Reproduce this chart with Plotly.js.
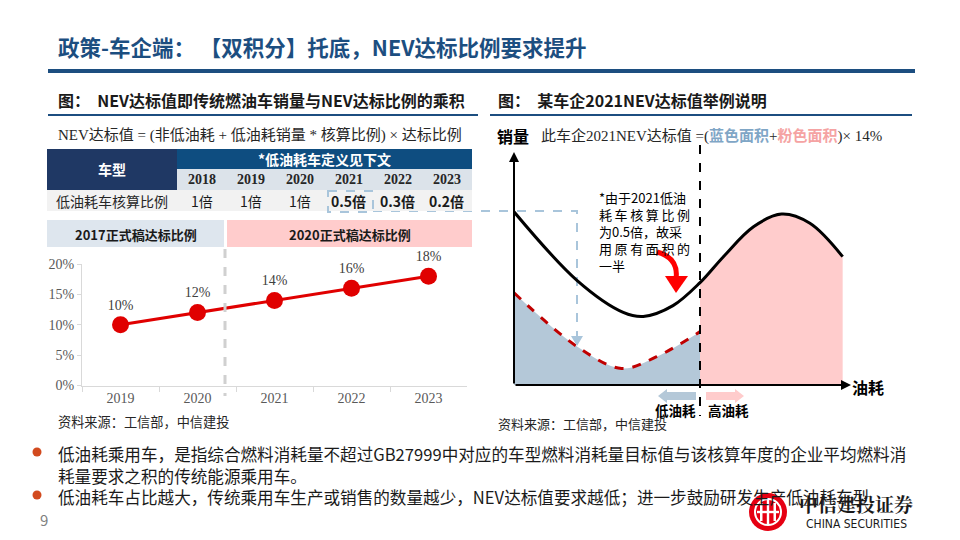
<!DOCTYPE html>
<html>
<head>
<meta charset="utf-8">
<script src="https://cdn.plot.ly/plotly-3.0.1.min.js"></script>
<style>
  html, body { margin: 0; padding: 0; background: #fff; }
  #plot { width: 960px; height: 540px; }
</style>
</head>
<body>
<div id="plot"></div>
<script>
// line chart: NEV target ratio by year
var years = ['2019', '2020', '2021', '2022', '2023'];
var ratio = [0.10, 0.12, 0.14, 0.16, 0.18];
var yTicks = [0, 0.05, 0.10, 0.15, 0.20];

// table: low-fuel-consumption car accounting ratio
var tableYears = ['2018', '2019', '2020', '2021', '2022', '2023'];
var credit = ['1倍', '1倍', '1倍', '0.5倍', '0.3倍', '0.2倍'];
var bands = ['2017正式稿达标比例', '2020正式稿达标比例'];

// schematic: sales vs fuel consumption
var fuel = [0, 1.9, 3.27, 3.87, 4.76, 5.57, 6.27, 7.17, 8.01, 8.86, 9.84];
var sales = [7.53, 4.53, 3.16, 2.98, 3.45, 4.45, 5.58, 6.88, 7.43, 7.03, 5.58];
var halfFuel = [0, 1.9, 3.22, 4.27, 5.57];
var halfSales = [4.01, 1.66, 0.72, 1.23, 2.32];
var cut = 5; // index where 高油耗 starts

var CJK = 'Noto Sans CJK SC';
var SERIF = 'Liberation Serif, Noto Sans CJK SC';
var NAVY = '#1C4E80';

var W = 960, H = 540;
function X(v) { return v / W; }
function Y(v) { return 1 - v / H; }

function note(x, y, text, size, color, extra) {
  return Object.assign({
    xref: 'paper', yref: 'paper', x: X(x), y: Y(y), text: text, showarrow: false,
    xanchor: 'left', yanchor: 'middle', borderpad: 0,
    font: {family: CJK, size: size, color: color}
  }, extra || {});
}
function box(x0, y0, x1, y1, fill, extra) {
  return Object.assign({
    type: 'rect', xref: 'paper', yref: 'paper',
    x0: X(x0), x1: X(x1), y0: Y(y0), y1: Y(y1),
    fillcolor: fill, line: {width: 0}
  }, extra || {});
}
function seg(x0, y0, x1, y1, color, width, dash) {
  return {type: 'line', xref: 'paper', yref: 'paper', x0: X(x0), x1: X(x1), y0: Y(y0), y1: Y(y1),
    line: {color: color, width: width, dash: dash || 'solid'}};
}
function path(cmds, line, fill, extra) {
  var d = cmds.map(function (c) {
    var s = c[0];
    for (var i = 1; i < c.length; i += 2) s += ' ' + X(c[i]) + ',' + Y(c[i + 1]);
    return s;
  }).join(' ');
  return Object.assign({type: 'path', xref: 'paper', yref: 'paper', path: d,
    line: line || {width: 0}, fillcolor: fill || 'rgba(0,0,0,0)'}, extra || {});
}
function circle(cx, cy, r, fill, line) {
  return box(cx - r, cy - r, cx + r, cy + r, fill, {type: 'circle', line: line || {width: 0}});
}

var traces = [
  {
    x: years, y: ratio, xaxis: 'x', yaxis: 'y', type: 'scatter', mode: 'lines+markers+text',
    line: {color: '#E00000', width: 3},
    marker: {color: '#E00000', size: 17},
    text: ratio.map(function (v) { return Math.round(v * 100) + '%'; }),
    textposition: 'top center',
    textfont: {family: 'Liberation Serif', size: 14, color: '#404040'},
    cliponaxis: false, hoverinfo: 'skip'
  },
  {
    x: fuel.slice(cut), y: sales.slice(cut), xaxis: 'x2', yaxis: 'y2', type: 'scatter', mode: 'lines',
    line: {width: 0, shape: 'spline'}, fill: 'tozeroy', fillcolor: '#FFCCCC', hoverinfo: 'skip'
  },
  {
    x: halfFuel, y: halfSales, xaxis: 'x2', yaxis: 'y2', type: 'scatter', mode: 'lines',
    line: {color: '#C00000', width: 3, dash: 'dash', shape: 'spline'},
    fill: 'tozeroy', fillcolor: '#B4C8D8', hoverinfo: 'skip'
  },
  {
    x: fuel, y: sales, xaxis: 'x2', yaxis: 'y2', type: 'scatter', mode: 'lines',
    line: {color: '#000000', width: 3, shape: 'spline'}, hoverinfo: 'skip'
  }
];

var shapes = [
  box(48, 69, 915, 73, NAVY),
  box(48, 114, 478, 116, NAVY),
  box(490, 114, 912, 116, NAVY),
  // table
  box(47, 149, 177, 190, '#1F3864'),
  box(177, 149, 472, 169, '#0E4D80'),
  box(177, 169, 472, 190, '#DCE3EA'),
  box(47, 190, 472, 211, '#F2F2F2'),
  // bands
  box(47, 220, 224, 247, '#DEE6EE'),
  box(227, 220, 472, 247, '#FFCCCC'),
  seg(225, 249, 225, 396, '#D0D0D0', 3, 'dash'),
  // dashed highlight of 0.5倍 and connector to the schematic
  box(328, 191, 373, 212, 'rgba(0,0,0,0)', {line: {color: '#A9C5DB', width: 2, dash: 'dash'}}),
  path([['M', 373, 211], ['L', 577, 211], ['L', 577, 337]], {color: '#A9C5DB', width: 2, dash: 'dash'}, null, {layer: 'below'}),
  path([['M', 571, 336], ['L', 583, 336], ['L', 577, 346], ['Z']], {width: 0}, '#A9C5DB'),
  // schematic divider
  seg(700, 145, 700, 416, '#000000', 2, 'dash'),
  // red curved arrow
  path([['M', 657, 252], ['Q', 679, 258, 676, 279]], {color: '#FF0000', width: 5}),
  path([['M', 665, 276], ['L', 688, 276], ['L', 676, 293], ['Z']], {width: 0}, '#FF0000'),
  // block arrows under the x axis
  path([['M', 696, 392], ['L', 667, 392], ['L', 667, 389], ['L', 658, 396], ['L', 667, 403], ['L', 667, 400], ['L', 696, 400], ['Z']], {width: 0}, '#B4C8D8'),
  path([['M', 706, 392], ['L', 735, 392], ['L', 735, 389], ['L', 744, 396], ['L', 735, 403], ['L', 735, 400], ['L', 706, 400], ['Z']], {width: 0}, '#FFCCCC'),
  // bullets
  circle(37, 452, 4.5, '#D24A1E'),
  circle(37, 495, 4.5, '#D24A1E'),
  // logo
  circle(768, 512, 19, '#E60012'),
  circle(768, 512, 13, 'rgba(0,0,0,0)', {color: '#FFFFFF', width: 2}),
  box(760, 503, 762.5, 521, '#FFFFFF'),
  box(766.8, 500, 769.2, 524, '#FFFFFF'),
  box(773.5, 503, 776, 521, '#FFFFFF'),
  box(757, 510.8, 779, 513.2, '#FFFFFF')
];

var ann = [
  note(57, 47, '<b>政策-车企端： 【双积分】托底，NEV达标比例要求提升</b>', 21.5, NAVY),
  note(57, 100, '<b>图：  NEV达标值即传统燃油车销量与NEV达标比例的乘积</b>', 16, '#1A1A1A'),
  note(497, 100, '<b>图：  某车企2021NEV达标值举例说明</b>', 16, '#1A1A1A'),
  note(57, 135, 'NEV达标值 = (非低油耗 + 低油耗销量 * 核算比例) × 达标比例', 15, '#262626', {font: {family: SERIF, size: 15, color: '#262626'}}),
  note(112, 169, '<b>车型</b>', 14, '#FFFFFF', {xanchor: 'center'}),
  note(324, 159, '<b>*低油耗车定义见下文</b>', 14, '#FFFFFF', {xanchor: 'center'}),
  note(112, 201, '低油耗车核算比例', 14, '#262626', {xanchor: 'center'}),
  note(136, 234, '<b>' + bands[0] + '</b>', 13, '#1A1A1A', {xanchor: 'center'}),
  note(350, 234, '<b>' + bands[1] + '</b>', 13, '#1A1A1A', {xanchor: 'center'}),
  note(57, 421, '资料来源：工信部，中信建投', 13.2, '#262626'),
  // schematic texts
  note(513, 136, '<b>销量</b>', 16, '#000000', {xanchor: 'center'}),
  note(540, 136, '此车企2021NEV达标值 =(<span style="color:#7FA6C6"><b>蓝色面积</b></span>+<span style="color:#F5A3A3"><b>粉色面积</b></span>)× 14%', 15, '#262626', {font: {family: SERIF, size: 15, color: '#262626'}}),
  note(598, 187, '*由于2021低油<br>耗\u2009车\u2009核\u2009算\u2009比\u2009例<br>为0.5倍，故采<br>用\u2009原\u2009有\u2009面\u2009积\u2009的<br>一半', 13, '#000000', {yanchor: 'top', align: 'left'}),
  note(675, 410, '<b>低油耗</b>', 13.5, '#000000', {xanchor: 'center'}),
  note(728, 410, '<b>高油耗</b>', 13.5, '#000000', {xanchor: 'center'}),
  note(851, 387, '<b>油耗</b>', 16, '#000000'),
  note(497, 423, '资料来源：工信部，中信建投', 13, '#262626'),
  // axis arrows of the schematic
  {xref: 'paper', yref: 'paper', x: X(514), y: Y(152), ax: 0, ay: 233, text: '', showarrow: true,
    arrowhead: 2, arrowsize: 1, arrowwidth: 2, arrowcolor: '#000000', standoff: 0},
  {xref: 'paper', yref: 'paper', x: X(851), y: Y(385), ax: -337, ay: 0, text: '', showarrow: true,
    arrowhead: 2, arrowsize: 1, arrowwidth: 2, arrowcolor: '#000000', standoff: 0},
  // bullets
  note(57, 441.3, '低油耗乘用车，是指综合燃料消耗量不超过GB27999中对应的车型燃料消耗量目标值与该核算年度的企业平均燃料消<br>' +
    '耗量要求之积的传统能源乘用车。<br>' +
    '低油耗车占比越大，传统乘用车生产或销售的数量越少，NEV达标值要求越低；进一步鼓励研发生产低油耗车型',
    16.6, '#1A1A1A', {yanchor: 'top', align: 'left'}),
  note(44, 519, '9', 15, '#7F7F7F', {xanchor: 'center'}),
  note(856, 503, '<b>中信建投证券</b>', 19, '#1A1A1A', {xanchor: 'center', font: {family: 'Noto Serif CJK SC, Noto Sans CJK SC', size: 19, color: '#1A1A1A'}}),
  note(856, 524, 'CHINA SECURITIES', 12, '#1A1A1A', {xanchor: 'center', font: {family: 'DejaVu Sans Condensed, Liberation Sans', size: 12, color: '#1A1A1A'}})
];

// table year header and values
tableYears.forEach(function (yr, i) {
  var cx = 177 + 49 * i + 24.5;
  ann.push(note(cx, 180, '<b>' + yr + '</b>', 13, '#262626', {xanchor: 'center', font: {family: 'Liberation Serif', size: 14, color: '#262626'}}));
  var v = credit[i];
  ann.push(note(cx, 201, v === '1倍' ? v : '<b>' + v + '</b>', 14, '#1A1A1A', {xanchor: 'center'}));
});

var layout = {
  width: W, height: H,
  margin: {l: 0, r: 0, t: 0, b: 0},
  paper_bgcolor: '#FFFFFF', plot_bgcolor: 'rgba(0,0,0,0)',
  showlegend: false,
  font: {family: CJK},
  xaxis: {
    domain: [X(82), X(467)], anchor: 'y', type: 'category', range: [-0.5, 4.5],
    showline: true, linecolor: '#D9D9D9', linewidth: 1,
    ticks: 'outside', tickson: 'boundaries', ticklen: 5, tickcolor: '#D9D9D9',
    showgrid: false, zeroline: false, fixedrange: true,
    tickfont: {family: 'Liberation Serif', size: 14, color: '#595959'}
  },
  yaxis: {
    domain: [Y(385.5), Y(264)], anchor: 'x', range: [0, 0.2],
    tickvals: yTicks, ticktext: yTicks.map(function (v) { return Math.round(v * 100) + '%'; }),
    showline: true, linecolor: '#D9D9D9', linewidth: 1,
    ticks: 'outside', ticklen: 4, tickcolor: '#D9D9D9',
    showgrid: false, zeroline: false, fixedrange: true,
    tickfont: {family: 'Liberation Serif', size: 14, color: '#595959'}
  },
  xaxis2: {domain: [X(514), X(848)], anchor: 'y2', range: [0, 10], visible: false, fixedrange: true},
  yaxis2: {domain: [Y(385), Y(155)], anchor: 'x2', range: [0, 10], visible: false, fixedrange: true},
  shapes: shapes,
  annotations: ann
};

Plotly.newPlot('plot', traces, layout, {displayModeBar: false, staticPlot: true});
</script>
</body>
</html>
